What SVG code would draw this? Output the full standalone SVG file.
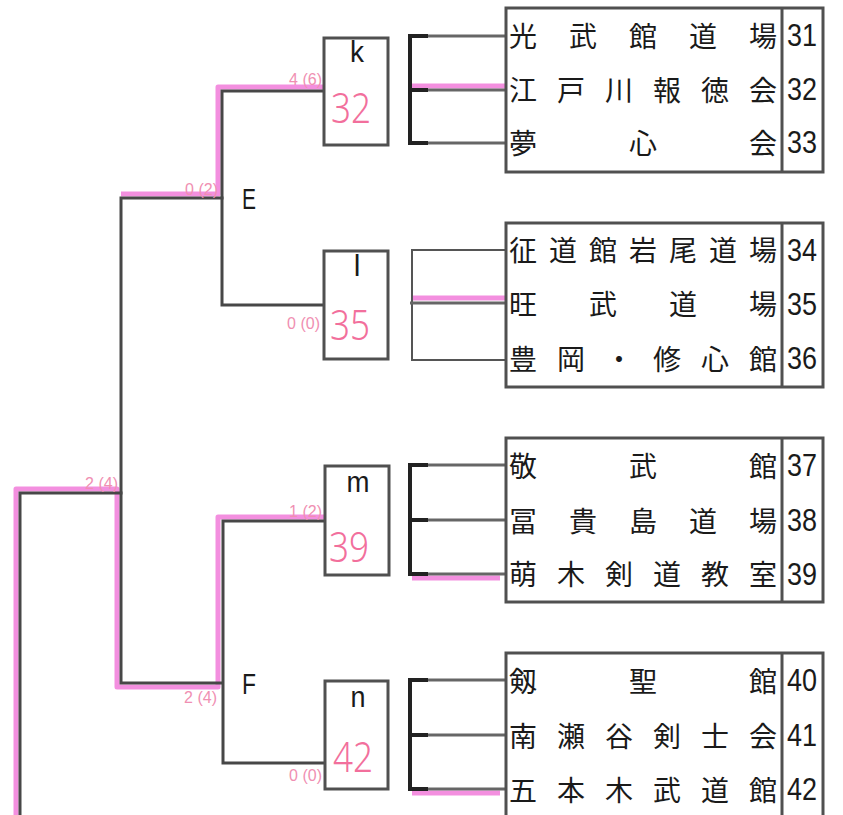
<svg xmlns="http://www.w3.org/2000/svg" width="843" height="815" viewBox="0 0 843 815">
<style>
.bg{fill:#ffffff}
.box{fill:#ffffff;stroke:#505050;stroke-width:3}
.tree{fill:none;stroke:#474747;stroke-width:3;stroke-linecap:square}
.hl{fill:none;stroke:#f283dc;stroke-width:5;stroke-opacity:0.9;stroke-linejoin:round}
.br{fill:none;stroke:#222222;stroke-width:4}
.stub{fill:none;stroke:#666666;stroke-width:3}
.thin{fill:none;stroke:#555555;stroke-width:2}
.jp{font-family:"Noto Sans CJK JP","Noto Sans CJK SC",sans-serif;font-size:28px;fill:#1a1a1a;text-anchor:middle;dominant-baseline:central}
.num{font-family:"Liberation Sans",Arial,sans-serif;font-size:32px;fill:#1a1a1a;text-anchor:middle}
.lbl{font-family:"Liberation Sans",Arial,sans-serif;font-size:30px;fill:#1a1a1a;text-anchor:middle}
.big{font-family:"Noto Sans","DejaVu Sans",sans-serif;font-weight:300;font-size:42px;fill:#f26f9c;text-anchor:middle}
.sc{font-family:"Liberation Sans",Arial,sans-serif;font-size:16px;fill:#f08fb2;text-anchor:end}
</style>
<rect class="bg" x="0" y="0" width="843" height="815"/>

<g id="connectors">
  <path class="hl" d="M323,87 L218,87 L218,194 L121,194"/>
  <path class="hl" d="M16,815 L16,489 L117,489 L117,687 L218,687 L218,517 L325,517"/>
  <path class="hl" d="M412,86 L506,86"/>
  <path class="hl" d="M412,298 L506,298"/>
  <path class="hl" d="M412,578 L500,578"/>
  <path class="hl" d="M412,793 L500,793"/>
  <path class="tree" d="M323,91 L222,91 L222,305 L323,305"/>
  <path class="tree" d="M222,198 L121,198 L121,683 L222,683"/>
  <path class="tree" d="M325,521 L223,521 L223,763 L325,763"/>
  <path class="tree" d="M121,493 L20,493 L20,820"/>
  <path class="br" d="M428,36 L410,36 L410,143 L428,143 M410,90 L428,90"/>
  <path class="stub" d="M428,36 L506,36 M428,90 L506,90 M428,143 L506,143"/>
  <path class="thin" d="M506,250 L412,250 L412,360 L506,360"/>
  <path class="stub" d="M410,303 L506,303"/>
  <path class="br" d="M428,465 L410,465 L410,574 L428,574 M410,520 L428,520"/>
  <path class="stub" d="M428,465 L506,465 M428,520 L506,520 M428,574 L506,574"/>
  <path class="br" d="M428,680 L410,680 L410,789 L428,789 M410,735 L428,735"/>
  <path class="stub" d="M428,680 L506,680 M428,735 L506,735 M428,789 L506,789"/>
</g>

<g id="labels">
  <text class="lbl" x="249" y="209" textLength="14" lengthAdjust="spacingAndGlyphs">E</text>
  <text class="lbl" x="249" y="694" textLength="14" lengthAdjust="spacingAndGlyphs">F</text>
  <text class="sc" x="322" y="85">4 (6)</text>
  <text class="sc" x="218" y="195">0 (2)</text>
  <text class="sc" x="320" y="329">0 (0)</text>
  <text class="sc" x="118" y="489">2 (4)</text>
  <text class="sc" x="322" y="517">1 (2)</text>
  <text class="sc" x="217" y="703">2 (4)</text>
  <text class="sc" x="322" y="781">0 (0)</text>
</g>

<g id="node-k">
  <rect class="box" x="324" y="38" width="64" height="107"/>
  <text class="lbl" x="357" y="62" textLength="14" lengthAdjust="spacingAndGlyphs">k</text>
  <text class="big" x="351" y="123" textLength="40" lengthAdjust="spacingAndGlyphs">32</text>
</g>
<g id="node-l">
  <rect class="box" x="324" y="251" width="64" height="108"/>
  <text class="lbl" x="357" y="276">l</text>
  <text class="big" x="350" y="340" textLength="40" lengthAdjust="spacingAndGlyphs">35</text>
</g>
<g id="node-m">
  <rect class="box" x="325" y="466" width="64" height="109"/>
  <text class="lbl" x="358" y="492" textLength="23" lengthAdjust="spacingAndGlyphs">m</text>
  <text class="big" x="349" y="562" textLength="40" lengthAdjust="spacingAndGlyphs">39</text>
</g>
<g id="node-n">
  <rect class="box" x="325" y="681" width="63" height="108"/>
  <text class="lbl" x="358" y="707" textLength="15" lengthAdjust="spacingAndGlyphs">n</text>
  <text class="big" x="353" y="772" textLength="40" lengthAdjust="spacingAndGlyphs">42</text>
</g>

<g id="teams-1">
  <rect class="box" x="506" y="8" width="317" height="164"/>
  <line class="box" x1="782" y1="8" x2="782" y2="172"/>
  <text class="jp" x="523 583 643 703 763" y="35">光武館道場</text>
  <text class="jp" x="523 571 619 667 715 763" y="89">江戸川報徳会</text>
  <text class="jp" x="523 643 763" y="142">夢心会</text>
  <text class="num" x="802" y="46" textLength="30" lengthAdjust="spacingAndGlyphs">31</text>
  <text class="num" x="802" y="100" textLength="30" lengthAdjust="spacingAndGlyphs">32</text>
  <text class="num" x="802" y="153" textLength="30" lengthAdjust="spacingAndGlyphs">33</text>
</g>
<g id="teams-2">
  <rect class="box" x="506" y="223" width="317" height="164"/>
  <line class="box" x1="782" y1="223" x2="782" y2="387"/>
  <text class="jp" x="523 563 603 643 683 723 763" y="249">征道館岩尾道場</text>
  <text class="jp" x="523 603 683 763" y="303">旺武道場</text>
  <text class="jp" x="523 571 619 667 715 763" y="358">豊岡・修心館</text>
  <text class="num" x="802" y="261" textLength="30" lengthAdjust="spacingAndGlyphs">34</text>
  <text class="num" x="802" y="315" textLength="30" lengthAdjust="spacingAndGlyphs">35</text>
  <text class="num" x="802" y="369" textLength="30" lengthAdjust="spacingAndGlyphs">36</text>
</g>
<g id="teams-3">
  <rect class="box" x="506" y="438" width="317" height="164"/>
  <line class="box" x1="782" y1="438" x2="782" y2="602"/>
  <text class="jp" x="523 643 763" y="465">敬武館</text>
  <text class="jp" x="523 583 643 703 763" y="520">冨貴島道場</text>
  <text class="jp" x="523 571 619 667 715 763" y="573">萌木剣道教室</text>
  <text class="num" x="802" y="476" textLength="30" lengthAdjust="spacingAndGlyphs">37</text>
  <text class="num" x="802" y="531" textLength="30" lengthAdjust="spacingAndGlyphs">38</text>
  <text class="num" x="802" y="585" textLength="30" lengthAdjust="spacingAndGlyphs">39</text>
</g>
<g id="teams-4">
  <rect class="box" x="506" y="653" width="317" height="180"/>
  <line class="box" x1="782" y1="653" x2="782" y2="833"/>
  <text class="jp" x="523 643 763" y="680">剱聖館</text>
  <text class="jp" x="523 571 619 667 715 763" y="735">南瀬谷剣士会</text>
  <text class="jp" x="523 571 619 667 715 763" y="789">五本木武道館</text>
  <text class="num" x="802" y="691" textLength="30" lengthAdjust="spacingAndGlyphs">40</text>
  <text class="num" x="802" y="746" textLength="30" lengthAdjust="spacingAndGlyphs">41</text>
  <text class="num" x="802" y="800" textLength="30" lengthAdjust="spacingAndGlyphs">42</text>
</g>
</svg>
